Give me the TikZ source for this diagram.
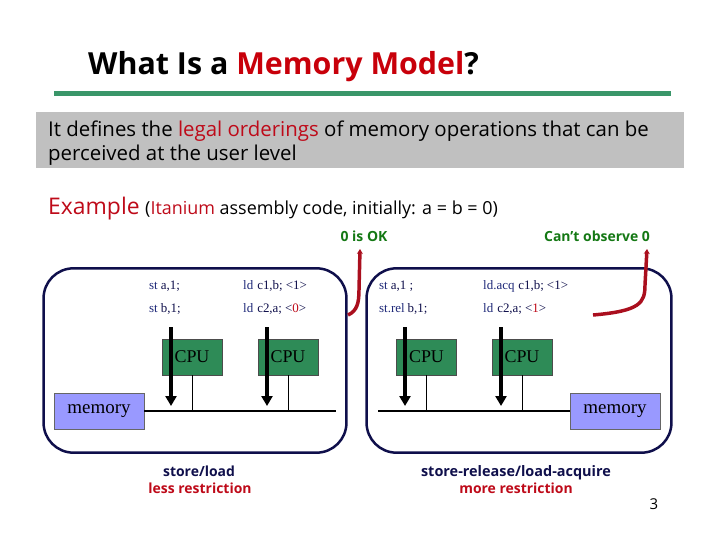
\documentclass[tikz,border=0pt]{standalone}
\usepackage{fontspec}
\setmainfont{Open Sans}
\newfontfamily\serifF{Liberation Serif}
\usetikzlibrary{arrows.meta}
\definecolor{titlered}{RGB}{200,0,10}
\definecolor{linegreen}{RGB}{58,150,105}
\definecolor{boxgray}{RGB}{192,192,192}
\definecolor{okgreen}{RGB}{20,120,20}
\definecolor{navy}{RGB}{15,15,75}
\definecolor{codeblue}{RGB}{30,40,120}
\definecolor{cpugreen}{RGB}{46,139,87}
\definecolor{memblue}{RGB}{153,153,255}
\definecolor{curvered}{RGB}{170,15,30}
\definecolor{txtred}{RGB}{190,10,25}
\tikzset{
  panel/.style={draw=navy, line width=2.5, rounded corners=30, minimum height=185, inner sep=0},
  cpu/.style={draw=black!70, fill=cpugreen, minimum width=60, minimum height=36, inner sep=0, font=\serifF\fontsize{18}{18}\selectfont},
  mem/.style={draw=black!60, fill=memblue, minimum width=90, minimum height=36, inner sep=0, font=\serifF\fontsize{19}{19}\selectfont},
  code/.style={anchor=base west, inner sep=0, text=navy, font=\serifF\fontsize{13}{13}\selectfont},
  txt/.style={anchor=base west, inner sep=0},
  flow/.style={line width=4, -{Triangle[length=10, width=11]}},
  wire/.style={line width=1},
  obs/.style={draw=curvered, line width=3.5, -{Stealth[length=5, width=6]}},
  lbl/.style={anchor=base, inner sep=0, font=\bfseries\fontsize{14}{14}\selectfont}
}
\begin{document}
\begin{tikzpicture}[x=1bp, y=-1bp]
\useasboundingbox (0,0) rectangle (720,540);
% title
\node[txt, font=\bfseries\fontsize{30.5}{30.5}\selectfont] (title) at (88,75) {What Is a \textcolor{titlered}{Memory Model}?};
\draw[linegreen, line width=6] (54,93.5) -- (671,93.5);
% gray box
\node[fill=boxgray, minimum width=650, minimum height=56, inner sep=0] (gbox) at (360,140) {};
\node[txt, font=\fontsize{20.5}{20.5}\selectfont] (d1) at (48,137) {It defines the \textcolor{txtred}{legal orderings} of memory operations that can be};
\node[txt, font=\fontsize{20.5}{20.5}\selectfont] (d2) at (48,161) {perceived at the user level};
% example
\node[txt, text=txtred, font=\fontsize{23}{23}\selectfont] (ex) at (48,215) {Example};
\node[txt, font=\fontsize{18}{18}\selectfont] (exd) at (145,215) {(\textcolor{txtred}{Itanium} assembly code, initially: a = b = 0)};
\node[lbl, text=okgreen] (okl) at (364,242) {0 is OK};
\node[lbl, text=okgreen] (cantl) at (597,242) {Can’t observe 0};
% panels
\node[panel, minimum width=304] (lp) at (195,360.5) {};
\node[panel, minimum width=306] (rp) at (519,360.5) {};
% left code
\node[code] (c11) at (149,289) {\textcolor{codeblue}{st}\hspace{3pt}a,1;};
\node[code] (c12) at (149,312) {\textcolor{codeblue}{st}\hspace{3pt}b,1;};
\node[code] (c13) at (243,289) {\textcolor{codeblue}{ld}\hspace{4pt}c1,b;\hspace{3pt}<1>};
\node[code] (c14) at (243,312) {\textcolor{codeblue}{ld}\hspace{4pt}c2,a;\hspace{3pt}<\textcolor{txtred}{0}>};
% right code
\node[code] (c21) at (379,289) {\textcolor{codeblue}{st}\hspace{3pt}a,1 ;};
\node[code] (c22) at (379,312) {\textcolor{codeblue}{st.rel}\hspace{3pt}b,1;};
\node[code] (c23) at (483,289) {\textcolor{codeblue}{ld.acq}\hspace{4pt}c1,b;\hspace{3pt}<1>};
\node[code] (c24) at (483,312) {\textcolor{codeblue}{ld}\hspace{4pt}c2,a;\hspace{3pt}<\textcolor{txtred}{1}>};
% CPUs and memories
\node[cpu] (cpu1) at (192,357) {CPU};
\node[cpu] (cpu2) at (288,357) {CPU};
\node[cpu] (cpu3) at (426.5,357) {CPU};
\node[cpu] (cpu4) at (522,357) {CPU};
\node[mem] (mem1) at (99,411) {memory};
\node[mem] (mem2) at (615,411) {memory};
% buses
\coordinate (bus1e) at (336,411);
\coordinate (bus2s) at (378,411);
\draw[wire, line width=2] (mem1.east) -- (bus1e);
\draw[wire, line width=2] (bus2s) -- (mem2.west);
\foreach \c in {cpu1,cpu2}{\draw[wire] (\c.south) -- (\c.south |- mem1.east);}
\foreach \c in {cpu3,cpu4}{\draw[wire] (\c.south) -- (\c.south |- mem2.west);}
% thick arrows
\foreach \n/\x in {a1/171,a2/267,a3/405,a4/501}{
  \coordinate (\n s) at (\x,327);
  \coordinate (\n e) at (\x,406);
  \draw[flow] (\n s) -- (\n e);
}
% red observation curves
\coordinate (ok0) at (348,315);
\coordinate (ok1) at (360,249);
\draw[obs] (ok0) .. controls (357,311) and (359,303) .. (359,290) -- (ok1);
\coordinate (cn0) at (593,315);
\coordinate (cn1) at (647,249);
\draw[obs] (cn0) .. controls (640,311) and (645,303) .. (645,285) -- (cn1);
% bottom labels
\node[lbl, text=navy] (b1) at (199,476) {store/load};
\node[lbl, text=txtred] (b2) at (200,493) {less restriction};
\node[lbl, text=navy, font=\bfseries\fontsize{14.5}{14.5}\selectfont] (b3) at (516,476) {store-release/load-acquire};
\node[lbl, text=txtred] (b4) at (516,493) {more restriction};
\node[anchor=base, inner sep=0, font=\fontsize{15}{15}\selectfont] (pg) at (654,509) {3};
\end{tikzpicture}
\end{document}
